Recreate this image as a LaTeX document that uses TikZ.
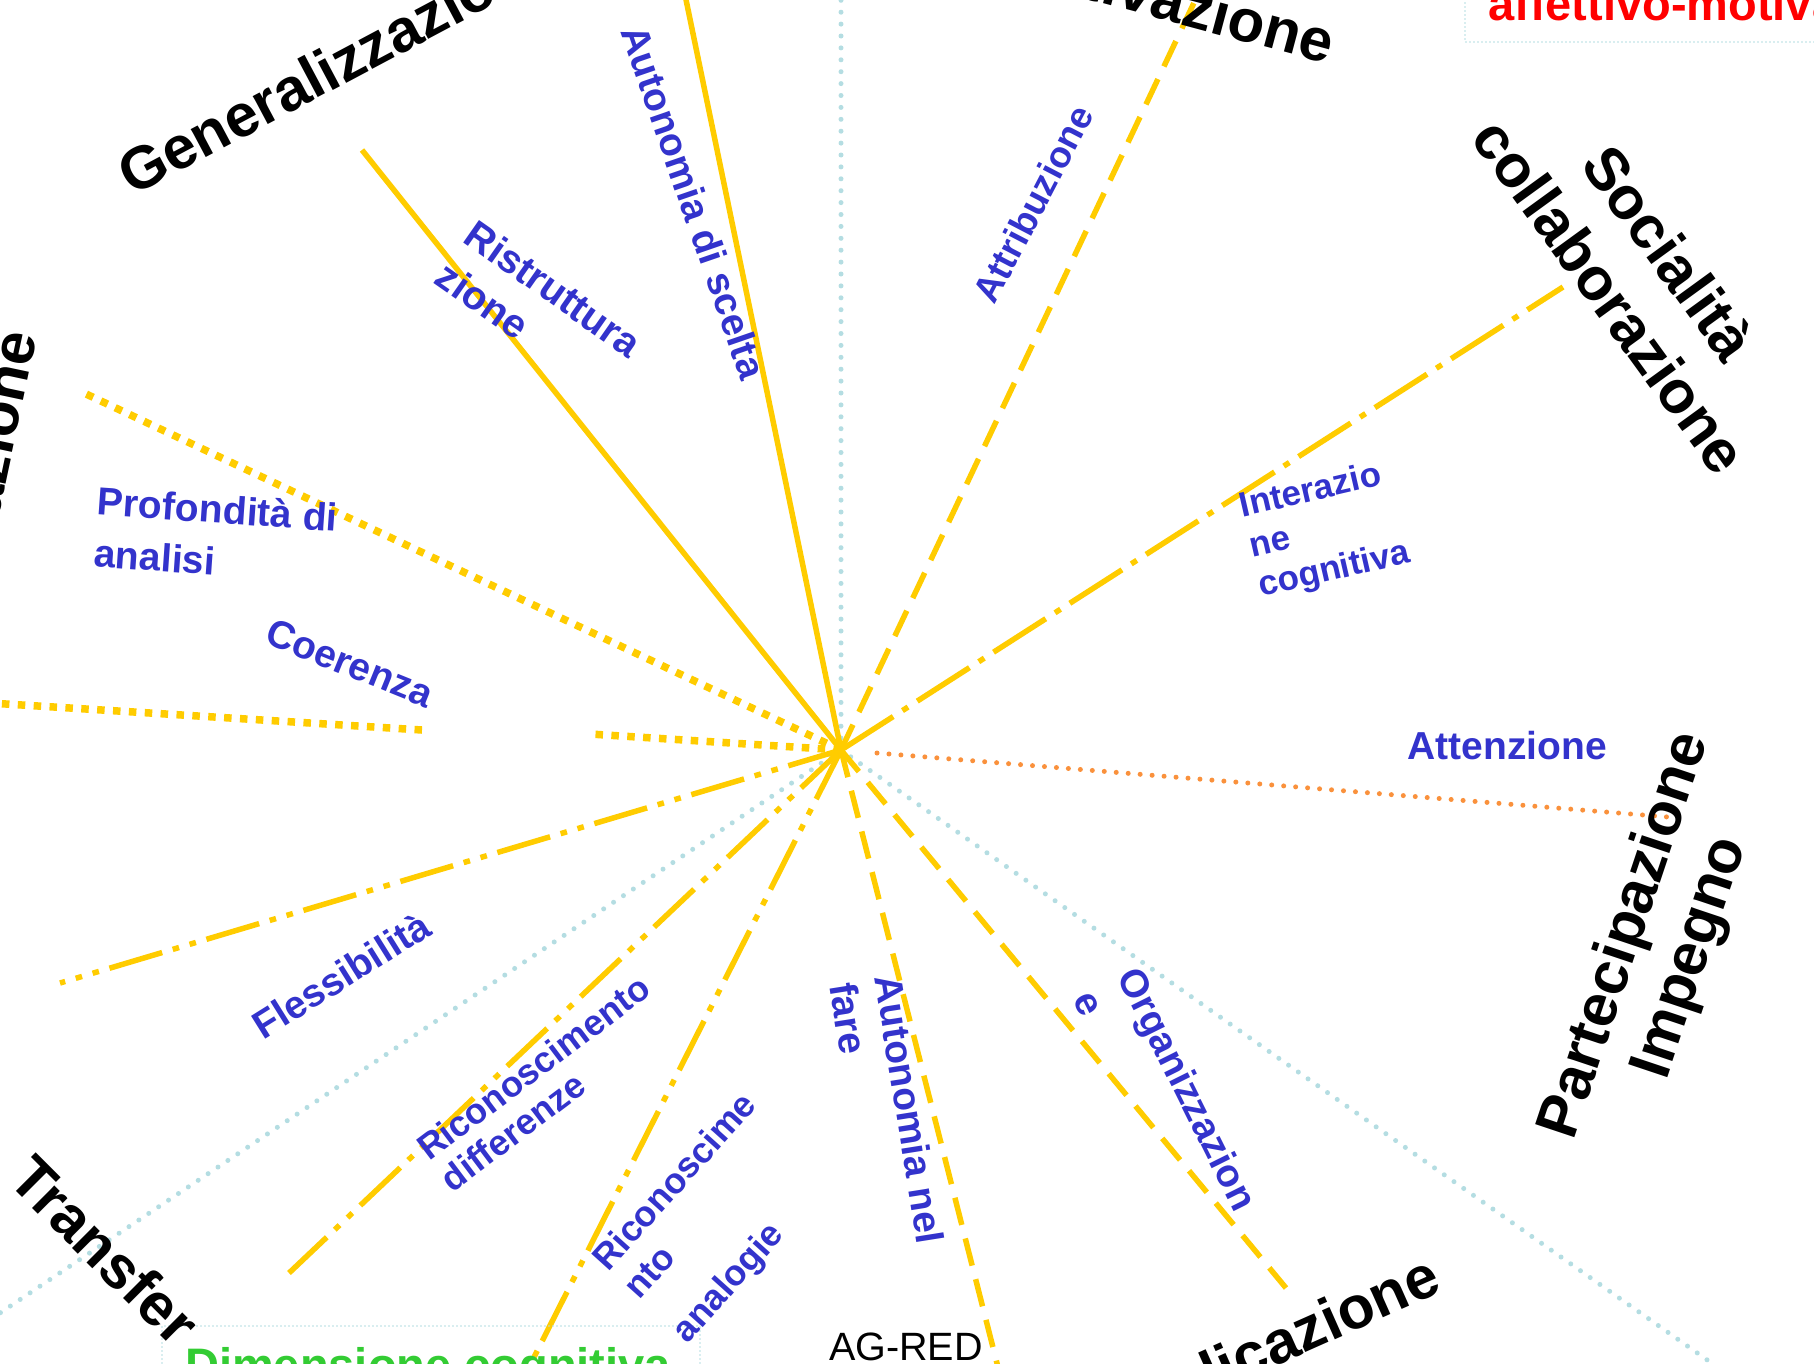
\documentclass[tikz,border=0pt]{standalone}
\usepackage{fontspec}
\setmainfont{Liberation Sans}
\definecolor{ylw}{RGB}{255,204,0}
\definecolor{lblue}{RGB}{51,51,204}
\definecolor{lcyan}{RGB}{180,221,226}
\definecolor{orng}{RGB}{250,145,60}
\definecolor{grn}{RGB}{51,204,51}
\begin{document}
\begin{tikzpicture}[x=1pt,y=-1pt,
  lbl/.style={text=lblue, font=\fontsize{39}{47}\selectfont\bfseries, inner sep=0pt},
  big/.style={text=black, font=\fontsize{60}{73}\selectfont\bfseries, inner sep=0pt},
  solidray/.style={draw=ylw, line width=5.5pt},
  dotray/.style={draw=ylw, line width=7.5pt, dash pattern=on 7.5pt off 8.4pt},
  dashray/.style={draw=ylw, line width=5.5pt, dash pattern=on 28pt off 14pt},
  dashdotray/.style={draw=ylw, line width=5.5pt, dash pattern=on 62pt off 11pt on 6.6pt off 11pt},
  dashdotdotray/.style={draw=ylw, line width=5.5pt, dash pattern=on 55pt off 11pt on 6.6pt off 11pt on 6.6pt off 11pt},
  blueray/.style={draw=lcyan, line width=5pt, line cap=round, dash pattern=on 0pt off 11.9pt},
  orangeray/.style={draw=orng, line width=5pt, line cap=round, dash pattern=on 0pt off 12pt},
  boxline/.style={draw=lcyan, line width=1.8pt, line cap=round, dash pattern=on 0pt off 4pt}]
\useasboundingbox (0,0) rectangle (1814,1363);
\clip (0,0) rectangle (1814,1363);
\fill[white] (0,0) rectangle (1814,1363);

% coordinates
\coordinate (C) at (841,750);
\coordinate (Ea) at (684,-10);
\coordinate (Eb) at (362,150);
\coordinate (Ec) at (84,393);
\coordinate (Ed1) at (590,734);
\coordinate (Ed2) at (422,730);
\coordinate (Ed) at (-10,703);
\coordinate (Ee) at (60,983);
\coordinate (Ef) at (-15,1323);
\coordinate (Eg) at (289,1273);
\coordinate (Eh) at (525,1375);
\coordinate (Ei) at (1000,1375);
\coordinate (Ej) at (1286,1288);
\coordinate (Ek) at (1730,1376);
\coordinate (Ls) at (877,753);
\coordinate (Le) at (1668,817);
\coordinate (Em) at (1563,287);
\coordinate (En) at (1200,-10);
\coordinate (Eo) at (841,-10);

% light blue dotted rays
\draw[blueray] (C) -- (Eo);
\draw[blueray] (C) -- (Ef);
\draw[blueray] (C) -- (Ek);
% orange
\draw[orangeray] (Ls) -- (Le);
% yellow rays
\draw[solidray] (C) -- (Ea);
\draw[solidray] (C) -- (Eb);
\draw[dotray] (C) -- (Ec);
\draw[dotray] (C) -- (Ed1);
\draw[dotray] (Ed2) -- (Ed);
\draw[dashdotdotray] (C) -- (Ee);
\draw[dashdotdotray] (C) -- (Eg);
\draw[dashdotdotray] (C) -- (Eh);
\draw[dashray] (C) -- (Ei);
\draw[dashray] (C) -- (Ej);
\draw[dashdotray] (C) -- (Em);
\draw[dashray] (C) -- (En);

% boxes
\coordinate (G1) at (162,1375);
\coordinate (G2) at (162,1326);
\coordinate (G3) at (700,1326);
\coordinate (G4) at (700,1375);
\draw[boxline] (G1) -- (G2) -- (G3) -- (G4);
\coordinate (R1) at (1465,-5);
\coordinate (R2) at (1465,42);
\coordinate (R3) at (1820,42);
\draw[boxline] (R1) -- (R2) -- (R3);

% box texts
\node[text=grn, font=\fontsize{47}{56}\selectfont\bfseries, inner sep=0pt, anchor=base west] (dimcog) at (185,1381) {Dimensione cognitiva};
\node[text=red, font=\fontsize{47}{56}\selectfont\bfseries, inner sep=0pt, anchor=base west] (affmot) at (1488,20) {affettivo-motivazionale};
\node[text=black, font=\fontsize{39.5}{46}\selectfont, inner sep=0pt, anchor=base west] (agred) at (829,1360) {AG-RED};

% blue labels
\node[lbl, rotate=-71] (autsc) at (694,202) {Autonomia di scelta};
\node[lbl, rotate=-35, align=left, font=\fontsize{40}{50}\selectfont\bfseries] (ristr) at (539,309) {Ristruttura\\zione};
\node[lbl, rotate=-4, align=left, font=\fontsize{39}{52}\selectfont\bfseries] (prof) at (216,535) {Profondità di\\analisi};
\node[lbl, rotate=-22] (coer) at (350,663) {Coerenza};
\node[lbl, rotate=32] (fless) at (341,975) {Flessibilità};
\node[lbl, rotate=37, align=left, font=\fontsize{36}{39}\selectfont\bfseries] (ricdiff) at (545,1083) {Riconoscimento\\differenze};
\node[lbl, rotate=48, align=left, font=\fontsize{36}{42}\selectfont\bfseries] (ricana) at (716,1219) {Riconoscime\\nto\\[23pt]analogie};
\node[lbl, rotate=-81, align=left, font=\fontsize{39}{46}\selectfont\bfseries] (autfare) at (887,1113) {Autonomia nel\\fare};
\node[lbl, rotate=-63.5, align=left, font=\fontsize{39}{50}\selectfont\bfseries] (organ) at (1166,1100) {Organizzazion\\e};
\node[lbl, rotate=62.5, font=\fontsize{37}{45}\selectfont\bfseries] (attr) at (1033,204) {Attribuzione};
\node[lbl, rotate=13, align=left, font=\fontsize{35}{41}\selectfont\bfseries] (inter) at (1325,531) {Interazio\\ne\\cognitiva};
\node[lbl] (atten) at (1507,746) {Attenzione};

% black dimension labels
\node[big, rotate=28, anchor=base west] (gen) at (132,197) {Generalizzazione};
\node[big, rotate=-15, anchor=base east] (motiv) at (1328,64) {Motivazione};
\node[big, rotate=-54, align=center] (soc) at (1640,274) {Socialità\\collaborazione};
\node[big, rotate=71.5, align=center, font=\fontsize{60}{69}\selectfont\bfseries] (part) at (1659,947) {Partecipazione\\Impegno};
\node[big, rotate=-45] (transf) at (105,1250) {Transfer};
\node[big, rotate=24, anchor=base east] (appl) at (1444,1291) {Applicazione};
\node[big, rotate=78, anchor=base east] (elab) at (37,336) {Elaborazione};
\end{tikzpicture}
\end{document}
